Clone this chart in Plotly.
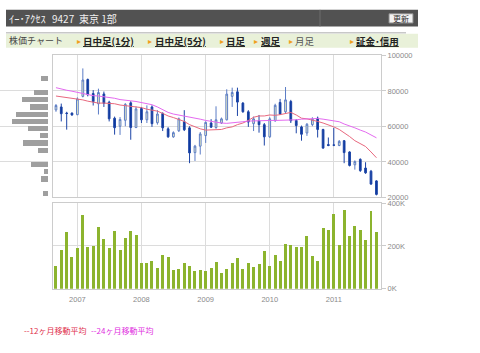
import plotly.graph_objects as go
import pandas as pd

# ---------------- data ----------------
months = [d.strftime("%Y-%m-%d") for d in pd.date_range("2006-09-01", "2011-09-01", freq="MS")]

opens = [69300, 70940, 67520, 67520, 66600, 76900, 86400, 78530, 72730, 78260,
         73650, 64590, 60080, 63450, 73270, 59380, 70050, 63710, 70950, 62080,
         67330, 58640, 54120, 57560, 62620, 59190, 45250, 48870, 54840, 61900,
         59370, 61900, 63710, 76920, 79460, 73120, 68240, 61540, 63170, 60990,
         54120, 63170, 73480, 68240, 74030, 63350, 59730, 56290, 60990, 64620,
         58280, 49770, 49590, 49230, 51950, 45610, 38370, 41450, 36560, 34750,
         29320]
highs = [72600, 72840, 68220, 67800, 76360, 92650, 86950, 80430, 81250, 79620,
         74460, 65510, 65240, 73110, 74190, 71210, 70950, 71860, 71860, 69140,
         67870, 59550, 57190, 64980, 69140, 60090, 49590, 56830, 62800, 64070,
         71310, 64980, 80900, 81810, 81810, 73670, 69140, 65520, 66430, 61900,
         65160, 72760, 75480, 82170, 74930, 64070, 60450, 61900, 65160, 65520,
         58640, 53750, 59190, 52300, 52300, 45970, 40900, 41990, 39820, 35470,
         29680]
lows = [68220, 62800, 58180, 66000, 66320, 76360, 76900, 71750, 66700, 70940,
        62800, 55360, 55200, 60080, 52490, 59000, 61900, 61900, 59730, 60990,
        57380, 53570, 53570, 56830, 57380, 39280, 40540, 44160, 50680, 59190,
        58640, 61360, 63350, 70950, 65880, 67700, 59730, 57380, 56470, 49230,
        53570, 62620, 66430, 67330, 61900, 56110, 51950, 54660, 60090, 53750,
        47420, 48870, 48870, 48870, 39280, 37460, 35660, 34390, 33300, 27150,
        21180]
closes = [71750, 67140, 67250, 66430, 75440, 86130, 77830, 73920, 79080, 72950,
          64260, 59270, 63880, 72400, 59380, 69850, 63710, 68240, 61540, 66970,
          59190, 54120, 56470, 64250, 58100, 45070, 48870, 55750, 62260, 59550,
          63710, 64250, 78190, 79100, 73670, 68240, 62440, 64250, 60990, 54120,
          64250, 71860, 66970, 74930, 63170, 60450, 55570, 61180, 64070, 58280,
          47780, 49230, 49410, 51580, 45250, 38010, 40180, 35110, 33850, 27510,
          21720]

volume_k = [105, 182, 267, 147, 192, 345, 197, 200, 289, 230,
            189, 270, 182, 238, 270, 250, 122, 119, 128, 96,
            156, 150, 87, 90, 119, 104, 81, 87, 84, 96,
            125, 72, 90, 119, 145, 92, 119, 102, 114, 176,
            105, 159, 128, 211, 205, 197, 197, 247, 153, 128,
            284, 275, 351, 202, 366, 247, 292, 275, 227, 362,
            266]
volume = [v * 1000 for v in volume_k]

ma12 = [77100, 76740, 76380, 76020, 75480, 74930, 74210, 73480, 73120, 73120,
        73120, 72760, 72040, 71670, 71670, 71310, 70590, 69680, 69140, 68600,
        67330, 65880, 64980, 64070, 62800, 61000, 59730, 58640, 57920, 57920,
        57920, 58280, 59190, 59730, 61000, 61900, 63350, 65160, 65880, 65880,
        66430, 66240, 66610, 67330, 67870, 66430, 64620, 64250, 63710, 62800,
        61900, 61000, 59730, 58280, 56470, 54300, 51950, 50320, 48690, 45610,
        42350]
ma24 = [81810, 80900, 80360, 79820, 79100, 78550, 77830, 77290, 77100, 76740,
        76380, 75840, 75110, 74570, 74390, 74030, 73300, 72760, 72220, 70950,
        69500, 67870, 66970, 66430, 66060, 65520, 64980, 64070, 63350, 62800,
        62260, 61900, 61720, 61900, 62260, 62620, 62990, 63170, 63350, 63350,
        63350, 63350, 63350, 63530, 63710, 63710, 64070, 64250, 64430, 64430,
        64070, 63710, 63170, 62620, 61360, 60450, 59190, 57920, 56830, 55200,
        53570]

profile_price = [86900, 82850, 78800, 74750, 70700, 66650, 62600, 58550, 54500,
                 50450, 46400, 42350, 38300, 34250, 30200, 26150, 22100]
profile_vol = [760, 0, 1430, 2600, 1800, 3200, 3660, 2030, 860,
               2500, 1000, 0, 1730, 460, 760, 0, 560]

year_ticks = ["2007-01-01", "2008-01-01", "2009-01-01", "2010-01-01", "2011-01-01"]
price_ticks = [20000, 40000, 60000, 80000, 100000]
price_ticklabels = ["20000", "40000", "60000", "80000", "100000"]
vol_ticks = [0, 200000, 400000]
vol_ticklabels = ["0K", "200K", "400K"]

header_name = "ｲｰ･ｱｸｾｽ"
header_code = "9427"
header_market = "東京 1部"
nav_items = ["日中足(1分)", "日中足(5分)", "日足", "週足", "月足", "証金･信用"]
legend_items = ["--12ヶ月移動平均", "--24ヶ月移動平均"]

# ---------------- helpers ----------------
W, H = 480, 353
def px(x):
    return x / W
def py(y):
    return 1 - y / H

JP = "Noto Sans CJK JP"
GRID = "#dcdcdc"
AX = "#cccccc"
TICKF = dict(family="Liberation Sans, Arial", size=7.5, color="#8a8a8a")

fig = go.Figure()

fig.add_trace(go.Bar(
    x=profile_vol, y=profile_price, orientation="h", xaxis="x3", yaxis="y",
    width=2900, marker=dict(color="#9f9f9f", line=dict(width=0)),
    hoverinfo="skip"))

fig.add_trace(go.Candlestick(
    x=months, open=opens, high=highs, low=lows, close=closes,
    xaxis="x", yaxis="y", whiskerwidth=0,
    increasing=dict(line=dict(color="#5b7cc6", width=1), fillcolor="#fafac2"),
    decreasing=dict(line=dict(color="#1c44a6", width=1), fillcolor="#0b379c"),
    hoverinfo="skip"))

fig.add_trace(go.Scatter(x=months, y=ma12, mode="lines", xaxis="x", yaxis="y",
                         line=dict(color="#e8687e", width=1), hoverinfo="skip"))
fig.add_trace(go.Scatter(x=months, y=ma24, mode="lines", xaxis="x", yaxis="y",
                         line=dict(color="#e46af0", width=1), hoverinfo="skip"))

fig.add_trace(go.Bar(x=months, y=volume, xaxis="x2", yaxis="y2",
                     width=17 * 86400000, marker=dict(color="#8cb42e", line=dict(width=0)),
                     hoverinfo="skip"))

xdom = [px(53), px(381)]
xrange_ = ["2006-08-15", "2011-09-27"]

shapes = [
    dict(type="rect", xref="paper", yref="paper", x0=px(6), x1=px(418), y0=py(23), y1=py(6),
         fillcolor="#525252", line=dict(width=0), layer="below"),
    dict(type="line", xref="paper", yref="paper", x0=px(320), x1=px(320), y0=py(23), y1=py(6),
         line=dict(color="#6c6c6c", width=1)),
    dict(type="rect", xref="paper", yref="paper", x0=px(389), x1=px(413), y0=py(19.5), y1=py(10),
         fillcolor="#f2f2f2", line=dict(color="#8a8a8a", width=1)),
    dict(type="line", xref="paper", yref="paper", x0=px(6), x1=px(406), y0=py(29.5), y1=py(29.5),
         line=dict(color="#c8c8c8", width=1.5)),
    dict(type="rect", xref="paper", yref="paper", x0=px(6), x1=px(418), y0=py(45), y1=py(30.5),
         fillcolor="#e9f1d9", line=dict(width=0), layer="below"),
]

ann = []
def txt(x, y, s, size, color, xanchor="left"):
    ann.append(dict(x=px(x), y=py(y), xref="paper", yref="paper", text=s, showarrow=False,
                    xanchor=xanchor, yanchor="middle", font=dict(family=JP, size=size, color=color)))

txt(7, 15, header_name, 10.5, "#f0f0f0")
txt(50, 15, header_code, 10, "#f0f0f0")
txt(77, 15, header_market, 10, "#f0f0f0")
txt(401, 15, "更新", 8, "#333333", xanchor="center")

txt(7, 37.5, "株価チャート", 9, "#444444")
nav_x = [81, 153, 224, 259, 293, 354]
tri_x = [75, 146, 218, 252, 287, 348]
for i, (s, x, tx) in enumerate(zip(nav_items, nav_x, tri_x)):
    txt(tx, 37.5, "▸", 8, "#f0a020")
    if s == "月足":
        txt(x, 37.5, s, 9.5, "#555555")
    else:
        txt(x, 37.5, "<b><u>" + s + "</u></b>", 9.5, "#222222")

txt(22, 335, legend_items[0], 8, "#e0304c")
txt(89, 335, legend_items[1], 8, "#e030e0")

fig.update_layout(
    width=W, height=H, margin=dict(l=0, r=0, t=0, b=0),
    paper_bgcolor="white", plot_bgcolor="white",
    showlegend=False, hovermode=False, boxgap=0.5, bargap=0,
    shapes=shapes, annotations=ann,
    xaxis=dict(domain=xdom, type="date", range=xrange_, anchor="y",
               rangeslider=dict(visible=False), showticklabels=False,
               tickvals=year_ticks, ticks="", showgrid=True, gridcolor=GRID, gridwidth=1,
               showline=True, linecolor=AX, mirror=True, zeroline=False),
    yaxis=dict(domain=[py(198.5), py(52.7)], range=[20000, 100000], side="right", anchor="x",
               tickvals=price_ticks, ticktext=price_ticklabels, ticks="outside", ticklen=4,
               tickcolor=AX, tickfont=TICKF, showgrid=True, gridcolor=GRID, gridwidth=1,
               showline=True, linecolor=AX, mirror=True, zeroline=False),
    xaxis2=dict(domain=xdom, type="date", range=xrange_, anchor="y2", matches="x",
                tickvals=year_ticks, tickformat="%Y", ticks="", tickfont=TICKF,
                ticklabelstandoff=3,
                showgrid=True, gridcolor=GRID, gridwidth=1,
                showline=True, linecolor=AX, mirror=True, zeroline=False),
    yaxis2=dict(domain=[py(292.3), py(204.3)], range=[0, 400000], side="right", anchor="x2",
                tickvals=vol_ticks, ticktext=vol_ticklabels, ticks="outside", ticklen=4,
                tickcolor=AX, tickfont=TICKF, showgrid=True, gridcolor=GRID, gridwidth=1,
                showline=True, linecolor=AX, mirror=True, zeroline=False),
    xaxis3=dict(domain=[0, px(48.3)], range=[4830, 0], anchor="y", visible=False),
)

fig.write_html("out.html")
